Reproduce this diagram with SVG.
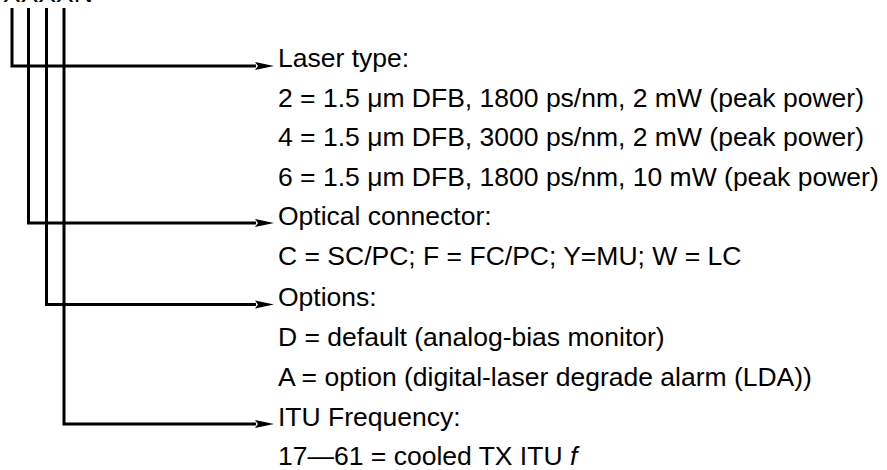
<svg xmlns="http://www.w3.org/2000/svg" width="887" height="470" viewBox="0 0 887 470">
<style>
.t{font-family:"Liberation Sans",Arial,sans-serif;font-size:26.5px;fill:#000}
.c{fill:none;stroke:#000;stroke-width:3;stroke-linejoin:miter}
</style>
<defs>
<marker id="ah" markerUnits="userSpaceOnUse" markerWidth="22" markerHeight="12" refX="1" refY="4.5" orient="auto" overflow="visible">
<path d="M0,0.5 L19,4.5 L0,8.5 L3,4.5 Z" fill="#000"/>
</marker>
</defs>
<rect width="887" height="470" fill="#fff"/>
<g id="code"><text class="t" x="3" y="2">XXXXN</text></g>
<g id="connectors">
<path class="c" d="M12,8 V66 H256" marker-end="url(#ah)"/>
<path class="c" d="M28.5,8 V223 H256" marker-end="url(#ah)"/>
<path class="c" d="M46.5,8 V304.5 H256" marker-end="url(#ah)"/>
<path class="c" d="M64,8 V424 H256" marker-end="url(#ah)"/>
</g>
<g id="laser">
<text class="t" x="278" y="67">Laser type:</text>
<text class="t" x="278" y="106.5">2 = 1.5 μm DFB, 1800 ps/nm, 2 mW (peak power)</text>
<text class="t" x="278" y="146">4 = 1.5 μm DFB, 3000 ps/nm, 2 mW (peak power)</text>
<text class="t" x="278" y="185.5">6 = 1.5 μm DFB, 1800 ps/nm, 10 mW (peak power)</text>
</g>
<g id="connector">
<text class="t" x="278" y="225">Optical connector:</text>
<text class="t" x="278" y="265">C = SC/PC; F = FC/PC; Y=MU; W = LC</text>
</g>
<g id="options">
<text class="t" x="278" y="306">Options:</text>
<text class="t" x="278" y="346">D = default (analog-bias monitor)</text>
<text class="t" x="278" y="386">A = option (digital-laser degrade alarm (LDA))</text>
</g>
<g id="itu">
<text class="t" x="278" y="425.5">ITU Frequency:</text>
<text class="t" x="278" y="465">17—61 = cooled TX ITU <tspan font-style="italic">f</tspan></text>
</g>
</svg>
